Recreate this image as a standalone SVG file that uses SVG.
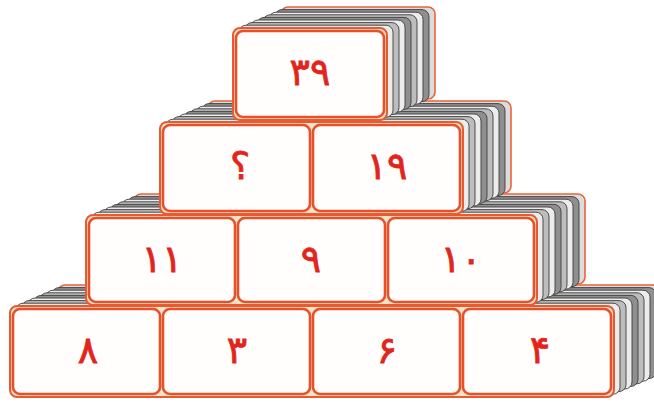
<svg xmlns="http://www.w3.org/2000/svg" width="654" height="402" viewBox="0 0 654 402">
<style>
.pg{stroke:#3c3c3c;stroke-width:0.9}
.pa{fill:#bdbdbd}
.pb{fill:#ececec}
.pc{fill:#8f8f8f}
.back{fill:#dcdcdc;stroke:#e8643c;stroke-width:1.6}
.frame{fill:#f3e2c4;stroke:#e85a32;stroke-width:2}
.box{fill:#fffefc;stroke:#e8502a;stroke-width:2.6}
.num{font-family:"DejaVu Sans","Noto Sans",sans-serif;font-weight:normal;font-size:38px;fill:#e3241b;stroke:#e3241b;stroke-width:0.8;text-anchor:middle;dominant-baseline:central}
</style>
<rect width="654" height="402" fill="#ffffff"/>

<!-- page stacks (back to front) -->
<g id="stack-row4">
<rect class="back" x="58" y="285" width="604" height="91" rx="7"/>
<rect class="pg pc" x="52" y="287.6" width="604" height="91" rx="7"/>
<rect class="pg pb" x="46" y="290.2" width="604" height="91" rx="7"/>
<rect class="pg pa" x="40" y="292.8" width="604" height="91" rx="7"/>
<rect class="pg pc" x="34" y="295.4" width="604" height="91" rx="7"/>
<rect class="pg pb" x="28" y="298" width="604" height="91" rx="7"/>
<rect class="pg pa" x="22" y="300.6" width="604" height="91" rx="7"/>
<rect class="pg pb" x="16" y="303.2" width="604" height="91" rx="7"/>
</g>
<g id="stack-row3">
<rect class="back" x="134" y="194" width="451" height="90" rx="7"/>
<rect class="pg pc" x="128" y="196.6" width="451" height="90" rx="7"/>
<rect class="pg pb" x="122" y="199.2" width="451" height="90" rx="7"/>
<rect class="pg pa" x="116" y="201.8" width="451" height="90" rx="7"/>
<rect class="pg pc" x="110" y="204.4" width="451" height="90" rx="7"/>
<rect class="pg pb" x="104" y="207" width="451" height="90" rx="7"/>
<rect class="pg pa" x="98" y="209.6" width="451" height="90" rx="7"/>
<rect class="pg pb" x="92" y="212.2" width="451" height="90" rx="7"/>
</g>
<g id="stack-row2">
<rect class="back" x="208" y="101" width="303" height="92" rx="7"/>
<rect class="pg pc" x="202" y="103.6" width="303" height="92" rx="7"/>
<rect class="pg pb" x="196" y="106.2" width="303" height="92" rx="7"/>
<rect class="pg pa" x="190" y="108.8" width="303" height="92" rx="7"/>
<rect class="pg pc" x="184" y="111.4" width="303" height="92" rx="7"/>
<rect class="pg pb" x="178" y="114" width="303" height="92" rx="7"/>
<rect class="pg pa" x="172" y="116.6" width="303" height="92" rx="7"/>
<rect class="pg pb" x="166" y="119.2" width="303" height="92" rx="7"/>
</g>
<g id="stack-row1">
<rect class="back" x="281" y="7" width="154" height="92" rx="7"/>
<rect class="pg pc" x="275" y="9.6" width="154" height="92" rx="7"/>
<rect class="pg pb" x="269" y="12.2" width="154" height="92" rx="7"/>
<rect class="pg pa" x="263" y="14.8" width="154" height="92" rx="7"/>
<rect class="pg pc" x="257" y="17.4" width="154" height="92" rx="7"/>
<rect class="pg pb" x="251" y="20" width="154" height="92" rx="7"/>
<rect class="pg pa" x="245" y="22.6" width="154" height="92" rx="7"/>
<rect class="pg pb" x="239" y="25.2" width="154" height="92" rx="7"/>
</g>

<!-- front frames -->
<rect class="frame" x="10" y="306" width="604" height="91" rx="7"/>
<rect class="frame" x="86" y="215" width="451" height="90" rx="7"/>
<rect class="frame" x="160" y="122" width="303" height="92" rx="7"/>
<rect class="frame" x="233" y="28" width="154" height="92" rx="7"/>

<!-- row 1 -->
<g id="b39"><rect class="box" x="236" y="31" width="148" height="86" rx="7"/><text class="num" x="310" y="72">۳۹</text></g>
<!-- row 2 -->
<g id="bq"><rect class="box" x="163" y="125" width="147" height="86" rx="7"/><text class="num" x="240" y="166">؟</text></g>
<g id="b19"><rect class="box" x="313" y="125" width="147" height="86" rx="7"/><text class="num" x="387" y="166">۱۹</text></g>
<!-- row 3 -->
<g id="b11"><rect class="box" x="89" y="218" width="146" height="84" rx="7"/><text class="num" x="162" y="259">۱۱</text></g>
<g id="b9"><rect class="box" x="238" y="218" width="147" height="84" rx="7"/><text class="num" x="311" y="259">۹</text></g>
<g id="b10"><rect class="box" x="388" y="218" width="146" height="84" rx="7"/><text class="num" x="461" y="259">۱۰</text></g>
<!-- row 4 -->
<g id="b8"><rect class="box" x="13" y="309" width="147" height="85" rx="7"/><text class="num" x="88" y="350">۸</text></g>
<g id="b3"><rect class="box" x="163" y="309" width="147" height="85" rx="7"/><text class="num" x="237" y="350">۳</text></g>
<g id="b6"><rect class="box" x="313" y="309" width="147" height="85" rx="7"/><text class="num" x="387" y="350">۶</text></g>
<g id="b4"><rect class="box" x="463" y="309" width="148" height="85" rx="7"/><text class="num" x="540" y="350">۴</text></g>
</svg>
